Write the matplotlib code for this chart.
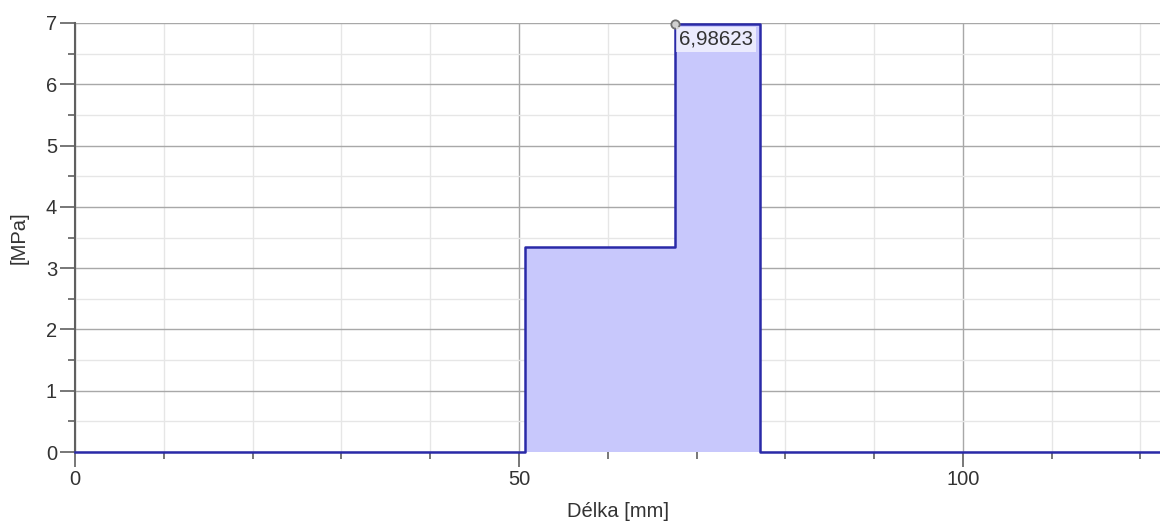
import matplotlib.pyplot as plt
from matplotlib.ticker import MultipleLocator

plt.rcParams['font.family'] = ['Liberation Sans', 'DejaVu Sans']

# step profile of pressure along length
x_edges = [0, 50.7, 67.6, 77.1, 122.2]
pressure = [0, 3.35, 6.98623, 0]
peak_x = 67.6
peak_y = 6.98623
peak_label = "6,98623"

line_col = "#2a2aa8"
fill_col = "#c8c8fc"

fig = plt.figure(figsize=(11.6, 5.22), dpi=100)
ax = fig.add_axes([0.0647, 0.134, 0.9353, 0.822])

# build step outline from the edges
xs, ys = [], []
for i, v in enumerate(pressure):
    xs += [x_edges[i], x_edges[i + 1]]
    ys += [v, v]

ax.fill_between(xs, ys, 0, color=fill_col, linewidth=0, zorder=1)
ax.plot(xs, ys, color=line_col, linewidth=1.8, zorder=3, clip_on=False)

ax.plot(peak_x, peak_y, 'o', markersize=6, markerfacecolor="#d0d0d0",
        markeredgecolor="#707070", markeredgewidth=1.3, zorder=5, clip_on=False)
ax.text(peak_x + 0.4, peak_y - 0.1, peak_label, fontsize=14.8, color="#333333",
        ha="left", va="top", zorder=6,
        bbox=dict(boxstyle="square,pad=0.15", facecolor="white", alpha=0.65, edgecolor="none"))

ax.set_xlim(0, 122.2)
ax.set_ylim(0, 7)

ax.xaxis.set_major_locator(MultipleLocator(50))
ax.xaxis.set_minor_locator(MultipleLocator(10))
ax.yaxis.set_major_locator(MultipleLocator(1))
ax.yaxis.set_minor_locator(MultipleLocator(0.5))

ax.grid(which="major", color="#a8a8a8", linewidth=1.0, zorder=0)
ax.grid(which="minor", color="#e6e6e6", linewidth=1.0, zorder=0)
ax.set_axisbelow(True)

for s in ["top", "right", "bottom"]:
    ax.spines[s].set_visible(False)
ax.spines["left"].set_color("#606060")
ax.spines["left"].set_linewidth(1.5)

ax.tick_params(which="major", length=11, width=1.2, color="#606060", labelsize=14.5, labelcolor="#333333")
ax.tick_params(which="minor", length=5, width=1.2, color="#606060")
ax.tick_params(axis="x", which="both", pad=2)
ax.tick_params(axis="y", which="both", pad=2)

ax.set_xlabel("Délka [mm]", fontsize=14.5, color="#333333", labelpad=9)
ax.set_ylabel("[MPa]", fontsize=14.5, color="#333333", labelpad=12)

fig.savefig("out.png", dpi=100)
